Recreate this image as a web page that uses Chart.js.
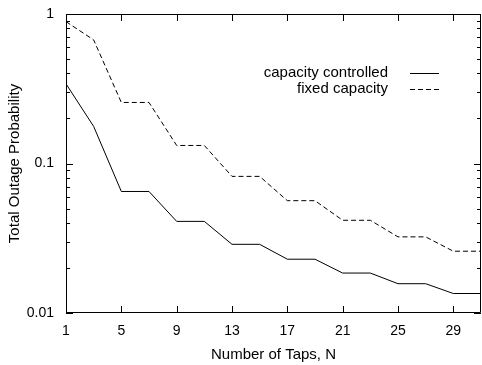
<!DOCTYPE html>
<html>
<head>
<meta charset="utf-8">
<script src="https://cdn.jsdelivr.net/npm/chart.js@4"></script>
<style>
  html, body { margin: 0; padding: 0; background: #fff; }
  #wrap { width: 482px; height: 365px; }
</style>
</head>
<body>
<div id="wrap"><canvas id="outageChart" width="482" height="365"></canvas></div>
<script>
// Data
const taps = [1, 3, 5, 7, 9, 11, 13, 15, 17, 19, 21, 23, 25, 27, 29, 31];
const capacityControlled = [0.341, 0.177, 0.065, 0.065, 0.041, 0.041, 0.0288, 0.0288, 0.0229, 0.0229, 0.0185, 0.0185, 0.0157, 0.0157, 0.0135, 0.0135];
const fixedCapacity = [0.889, 0.671, 0.256, 0.256, 0.132, 0.132, 0.082, 0.082, 0.0564, 0.0564, 0.0417, 0.0417, 0.0323, 0.0323, 0.0259, 0.0259];
const xTicks = [1, 5, 9, 13, 17, 21, 25, 29];
const yTicks = [0.01, 0.1, 1];
const yMinor = [0.02, 0.03, 0.04, 0.05, 0.06, 0.07, 0.08, 0.09, 0.2, 0.3, 0.4, 0.5, 0.6, 0.7, 0.8, 0.9];
const seriesNames = ['capacity controlled', 'fixed capacity'];

const FONT = 'Liberation Sans, Arial, Helvetica, sans-serif';

// frame, inward ticks and the legend, gnuplot style
const framePlugin = {
    id: 'frame',
    afterDraw(chart) {
        const ctx = chart.ctx;
        const a = chart.chartArea;
        const xs = chart.scales.x;
        const ys = chart.scales.y;
        ctx.save();
        ctx.strokeStyle = '#000';
        ctx.lineWidth = 1;
        ctx.beginPath();
        ctx.rect(a.left + 0.5, a.top + 0.5, a.right - a.left - 1, a.bottom - a.top - 1);
        ctx.stroke();

        ctx.beginPath();
        xTicks.forEach(v => {
            const px = Math.round(xs.getPixelForValue(v)) + 0.5;
            ctx.moveTo(px, a.bottom); ctx.lineTo(px, a.bottom - 7);
            ctx.moveTo(px, a.top); ctx.lineTo(px, a.top + 7);
        });
        yTicks.forEach(v => {
            const py = Math.round(ys.getPixelForValue(v)) + 0.5;
            ctx.moveTo(a.left, py); ctx.lineTo(a.left + 7, py);
            ctx.moveTo(a.right, py); ctx.lineTo(a.right - 7, py);
        });
        yMinor.forEach(v => {
            const py = Math.round(ys.getPixelForValue(v)) + 0.5;
            ctx.moveTo(a.left, py); ctx.lineTo(a.left + 4, py);
            ctx.moveTo(a.right, py); ctx.lineTo(a.right - 4, py);
        });
        ctx.stroke();

        // legend
        ctx.font = '15px ' + FONT;
        ctx.fillStyle = '#000';
        ctx.textAlign = 'right';
        ctx.textBaseline = 'middle';
        const lx = 388, ly = [73, 89];
        seriesNames.forEach((name, i) => {
            ctx.fillText(name, lx, ly[i]);
            ctx.beginPath();
            ctx.setLineDash(i === 0 ? [] : [5, 3]);
            ctx.moveTo(410, ly[i] + 0.5);
            ctx.lineTo(439, ly[i] + 0.5);
            ctx.stroke();
        });
        ctx.restore();
    }
};

const ctx = document.getElementById('outageChart').getContext('2d');
new Chart(ctx, {
    type: 'line',
    data: {
        datasets: [{
            label: seriesNames[0],
            data: taps.map((t, i) => ({ x: t, y: capacityControlled[i] })),
            borderColor: '#000',
            borderWidth: 1,
            pointRadius: 0,
            tension: 0
        }, {
            label: seriesNames[1],
            data: taps.map((t, i) => ({ x: t, y: fixedCapacity[i] })),
            borderColor: '#000',
            borderWidth: 1,
            borderDash: [5, 3],
            pointRadius: 0,
            tension: 0
        }]
    },
    options: {
        responsive: false,
        animation: false,
        layout: { padding: { top: 14, right: 1, left: 0, bottom: 0 } },
        plugins: { legend: { display: false }, tooltip: { enabled: false } },
        scales: {
            x: {
                type: 'linear',
                min: 1,
                max: 31,
                afterBuildTicks: scale => { scale.ticks = xTicks.map(v => ({ value: v })); },
                afterFit: scale => {
                    scale.height = 52;
                    scale.paddingLeft = 0;
                    scale.paddingRight = 0;
                },
                grid: { display: false, drawTicks: false },
                border: { display: false },
                ticks: {
                    color: '#000',
                    font: { family: FONT, size: 14 },
                    padding: 10,
                    maxRotation: 0,
                    autoSkip: false
                },
                title: {
                    display: true,
                    text: 'Number of Taps, N',
                    color: '#000',
                    font: { family: FONT, size: 15 },
                    padding: { top: 8, bottom: 1 }
                }
            },
            y: {
                type: 'logarithmic',
                min: 0.01,
                max: 1,
                afterBuildTicks: scale => { scale.ticks = yTicks.map(v => ({ value: v })); },
                afterFit: scale => {
                    scale.width = 66;
                    scale.paddingTop = 0;
                    scale.paddingBottom = 0;
                },
                grid: { display: false, drawTicks: false },
                border: { display: false },
                ticks: {
                    color: '#000',
                    font: { family: FONT, size: 14 },
                    padding: 12,
                    autoSkip: false,
                    callback: v => String(v)
                },
                title: {
                    display: true,
                    text: 'Total Outage Probability',
                    color: '#000',
                    font: { family: FONT, size: 15 },
                    padding: { top: 6, bottom: 2 }
                }
            }
        }
    },
    plugins: [framePlugin]
});
</script>
</body>
</html>
